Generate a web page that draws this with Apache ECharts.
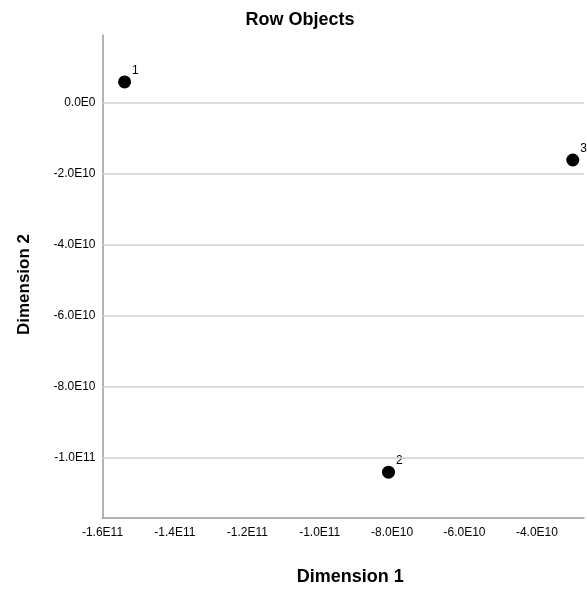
<!DOCTYPE html>
<html>
<head>
<meta charset="utf-8">
<script src="https://cdn.jsdelivr.net/npm/echarts@6/dist/echarts.min.js"></script>
<style>
  html, body { margin: 0; padding: 0; background: #fff; }
  #chart { width: 587px; height: 591px; }
</style>
</head>
<body>
<div id="chart"></div>
<script>
// row object points
var rowNames = ['1', '2', '3'];
var dim1 = [-1.539e11, -8.10e10, -3.01e10];
var dim2 = [5.8e9, -1.041e11, -1.62e10];

// labelled ticks
var xTicks = [-1.6e11, -1.4e11, -1.2e11, -1.0e11, -8.0e10, -6.0e10, -4.0e10];
var yTicks = [0, -2.0e10, -4.0e10, -6.0e10, -8.0e10, -1.0e11];

function sci(v) {
    return v.toExponential(1).toUpperCase().replace('+', '');
}
function tickLabel(list) {
    return function (v) {
        for (var i = 0; i < list.length; i++) {
            if (Math.abs(list[i] - v) < 1) return sci(list[i]);
        }
        return '';
    };
}

var points = rowNames.map(function (n, i) {
    return { name: n, value: [dim1[i], dim2[i]] };
});

var font = 'Liberation Sans, Arial, sans-serif';

var option = {
    animation: false,
    title: {
        text: 'Row Objects',
        left: 300,
        textAlign: 'center',
        top: 11,
        padding: 0,
        textStyle: { fontFamily: font, fontSize: 18, fontWeight: 'bold', color: '#000' }
    },
    grid: { left: 102.5, top: 35, right: 0, bottom: 59, containLabel: false },
    xAxis: {
        type: 'value',
        min: -1.6e11,
        max: -2.7e10,
        interval: 1e9,
        name: 'Dimension 1',
        nameLocation: 'middle',
        nameGap: 50,
        nameTextStyle: { fontFamily: font, fontSize: 18, fontWeight: 'bold', color: '#000', padding: [0, 0, 0, 14] },
        axisLine: { onZero: false, lineStyle: { color: '#9a9a9a', width: 1.5 } },
        axisTick: { show: false },
        splitLine: { show: false },
        axisLabel: {
            formatter: tickLabel(xTicks),
            showMinLabel: true,
            showMaxLabel: true,
            margin: 9,
            fontFamily: font, fontSize: 12, color: '#000'
        }
    },
    yAxis: {
        type: 'value',
        min: -1.17e11,
        max: 1.9e10,
        interval: 1e9,
        name: 'Dimension 2',
        nameLocation: 'middle',
        nameGap: 70,
        nameTextStyle: { fontFamily: font, fontSize: 17, fontWeight: 'bold', color: '#000', padding: [0, 16, 0, 0] },
        axisLine: { onZero: false, lineStyle: { color: '#9a9a9a', width: 1.5 } },
        axisTick: { show: false },
        splitLine: { show: false },
        axisLabel: {
            formatter: tickLabel(yTicks),
            showMinLabel: true,
            showMaxLabel: true,
            margin: 7,
            fontFamily: font, fontSize: 12, color: '#000'
        }
    },
    series: [{
        type: 'scatter',
        data: points,
        symbol: 'circle',
        symbolSize: 13,
        itemStyle: { color: '#000', opacity: 1 },
        label: {
            show: true,
            formatter: '{b}',
            position: 'right',
            distance: 0,
            offset: [1, -11],
            fontFamily: font, fontSize: 12, color: '#000'
        },
        markLine: {
            silent: true,
            symbol: 'none',
            label: { show: false },
            lineStyle: { color: '#cfcfcf', type: 'solid', width: 1.5 },
            data: yTicks.map(function (v) { return { yAxis: v }; })
        },
        z: 3
    }]
};

var myChart = echarts.init(document.getElementById('chart'));
myChart.setOption(option);
</script>
</body>
</html>
